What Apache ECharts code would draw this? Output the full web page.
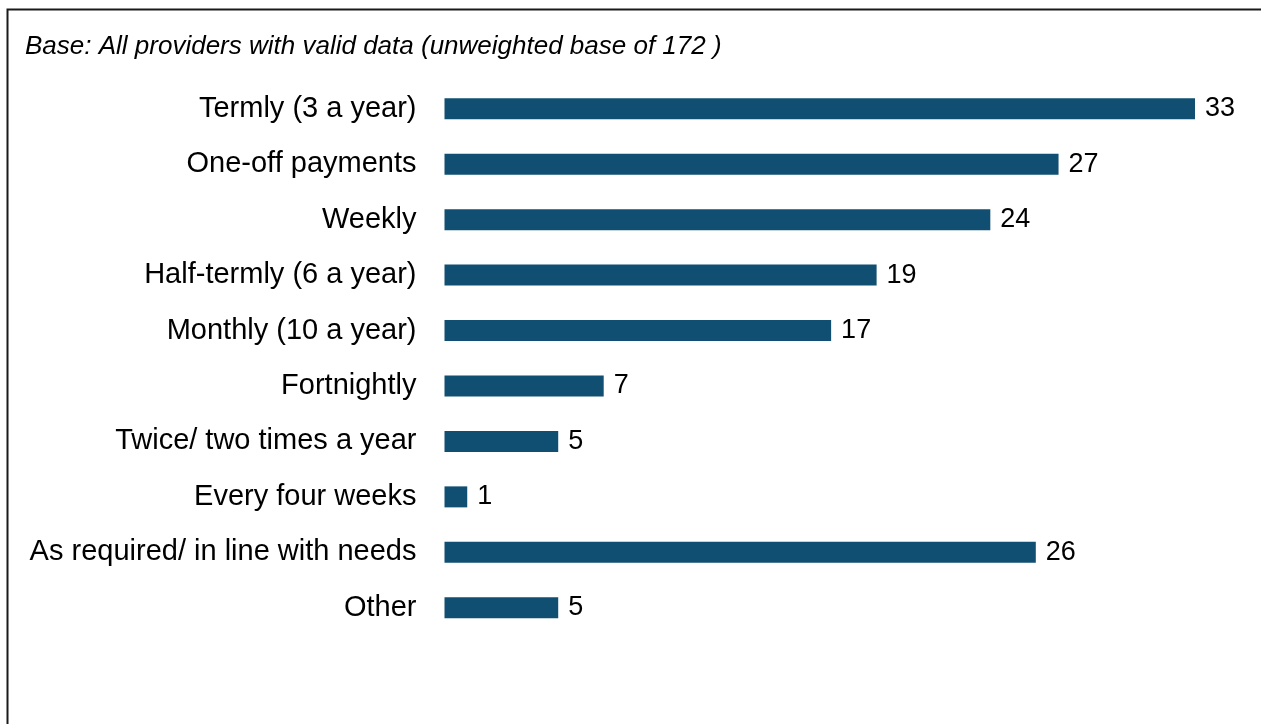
<!DOCTYPE html>
<html>
<head>
<meta charset="utf-8">
<title>Payment frequency</title>
<script src="https://cdn.jsdelivr.net/npm/echarts@6/dist/echarts.min.js"></script>
<style>
  html, body { margin: 0; padding: 0; background: #ffffff; }
  #chart { width: 1261px; height: 724px; }
</style>
</head>
<body>
<div id="chart"></div>
<script>
// Payment schedules offered by providers (% of providers)
const categories = [
  'Termly (3 a year)',
  'One-off payments',
  'Weekly',
  'Half-termly (6 a year)',
  'Monthly (10 a year)',
  'Fortnightly',
  'Twice/ two times a year',
  'Every four weeks',
  'As required/ in line with needs',
  'Other'
];
const percentages = [33, 27, 24, 19, 17, 7, 5, 1, 26, 5];
const baseNote = 'Base: All providers with valid data (unweighted base of 172 )';

const chart = echarts.init(document.getElementById('chart'), null, { renderer: 'canvas' });

chart.setOption({
  animation: false,
  backgroundColor: '#ffffff',
  textStyle: { fontFamily: '"Liberation Sans", Arial, sans-serif' },
  graphic: [
    {
      // frame around the chart area (runs off the right and bottom edges)
      type: 'rect',
      shape: { x: 7.5, y: 9.5, width: 1400, height: 900 },
      style: { fill: 'none', stroke: '#1a1a1a', lineWidth: 2 },
      silent: true
    },
    {
      type: 'text',
      left: 25,
      top: 34,
      style: {
        text: baseNote,
        fill: '#000000',
        font: 'italic 26px "Liberation Sans", Arial, sans-serif'
      }
    }
  ],
  grid: {
    left: 444.5,
    top: 81,
    width: 750.5,
    height: 554.5,
    containLabel: false
  },
  xAxis: {
    type: 'value',
    min: 0,
    max: 33,
    show: false
  },
  yAxis: {
    type: 'category',
    data: categories,
    inverse: true,
    axisLine: { show: false },
    axisTick: { show: false },
    splitLine: { show: false },
    axisLabel: {
      margin: 28,
      color: '#000000',
      fontSize: 29,
      fontFamily: '"Liberation Sans", Arial, sans-serif'
    }
  },
  series: [
    {
      type: 'bar',
      data: percentages,
      barWidth: 21,
      itemStyle: { color: '#114f72' },
      label: {
        show: true,
        position: 'right',
        distance: 10,
        color: '#000000',
        fontSize: 27,
        fontFamily: '"Liberation Sans", Arial, sans-serif'
      }
    }
  ]
});
</script>
</body>
</html>
